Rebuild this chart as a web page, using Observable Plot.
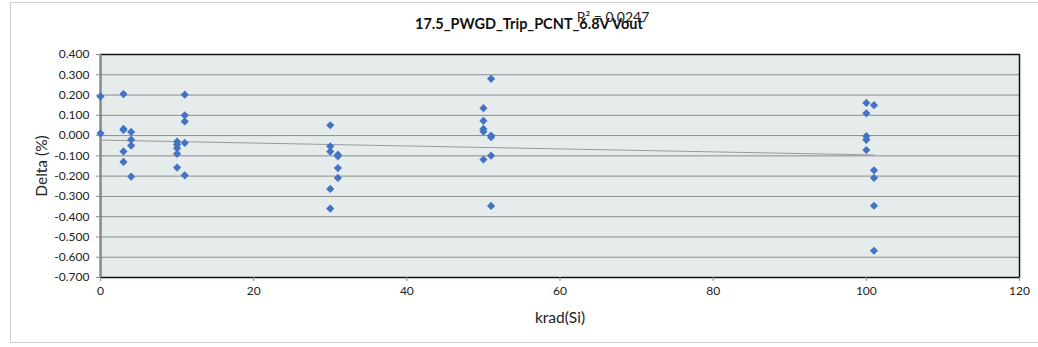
<!DOCTYPE html>
<html>
<head>
<meta charset="utf-8">
<script src="https://cdn.jsdelivr.net/npm/d3@7"></script>
<script src="https://cdn.jsdelivr.net/npm/@observablehq/plot@0.6"></script>
<style>
  html, body { margin: 0; padding: 0; background: #fff; overflow: hidden; }
  #wrap { position: relative; width: 1038px; height: 347px; overflow: hidden; }
  #border { position: absolute; left: 10px; top: 2px; width: 1100px; height: 341px; border: 1px solid #cfcfcf; box-sizing: border-box; pointer-events: none; }
  #chart { position: absolute; left: 0; top: 0; }
</style>
</head>
<body>
<div id="wrap"><div id="chart"></div><div id="border"></div></div>
<script>
const title = "17.5_PWGD_Trip_PCNT_6.8V Vout";
const r2Label = "R\u00B2 = 0.0247";
const xLabel = "krad(Si)";
const yLabel = "Delta (%)";

const krad = [
  0, 0,
  3, 3, 3, 3, 3,
  4, 4, 4, 4,
  10, 10, 10, 10, 10,
  11, 11, 11, 11, 11,
  30, 30, 30, 30, 30,
  31, 31, 31, 31,
  50, 50, 50, 50, 50,
  51, 51, 51, 51, 51,
  100, 100, 100, 100, 100,
  101, 101, 101, 101, 101
];
const delta = [
  0.193, 0.011,
  0.205, 0.033, 0.028, -0.078, -0.130,
  0.018, -0.020, -0.049, -0.202,
  -0.030, -0.045, -0.062, -0.090, -0.158,
  0.202, 0.100, 0.070, -0.036, -0.196,
  0.051, -0.053, -0.079, -0.263, -0.360,
  -0.094, -0.102, -0.160, -0.209,
  0.135, 0.073, 0.033, 0.020, -0.118,
  0.280, 0.000, -0.008, -0.099, -0.347,
  0.161, 0.110, -0.003, -0.021, -0.071,
  0.150, -0.171, -0.209, -0.346, -0.568
];
const xTicks = [0, 20, 40, 60, 80, 100, 120];
const yTicks = [0.4, 0.3, 0.2, 0.1, 0.0, -0.1, -0.2, -0.3, -0.4, -0.5, -0.6, -0.7];

const data = krad.map((k, i) => ({krad: k, delta: delta[i]}));

const chart = Plot.plot({
  width: 1038,
  height: 347,
  marginLeft: 100,
  marginRight: 19,
  marginTop: 54,
  marginBottom: 70,
  style: {fontFamily: "Lato, 'Open Sans', sans-serif", fontSize: "12px", color: "#222", background: "transparent"},
  x: {domain: [0, 120], label: null},
  y: {domain: [-0.7, 0.4], label: null},
  marks: [
    Plot.frame({fill: "#e6ecec", stroke: null}),
    Plot.ruleY(yTicks, {stroke: "#8c8c8c", strokeWidth: 1}),
    Plot.frame({stroke: "#111", strokeWidth: 1.5}),
    Plot.ruleX([0], {stroke: "#8a8a8a", strokeWidth: 2}),
    Plot.axisY({ticks: yTicks, tickFormat: d => d.toFixed(3), tickSize: 4, tickPadding: 7, stroke: "#8a8a8a",
      label: yLabel, labelAnchor: "center", labelArrow: "none", labelOffset: 65, fontSize: 12}),
    Plot.axisX({ticks: xTicks, tickSize: 4, tickPadding: 5, stroke: "#8a8a8a",
      label: xLabel, labelAnchor: "center", labelArrow: "none", labelOffset: 45, fontSize: 12}),
    Plot.linearRegressionY(data, {x: "krad", y: "delta", ci: 0, stroke: "#9a9a9a", strokeWidth: 1}),
    Plot.dot(data, {x: "krad", y: "delta", symbol: "diamond2", r: 3.7, fill: "#4472c4", stroke: null}),
    Plot.text([title], {frameAnchor: "top", dx: -31, dy: -30, lineAnchor: "middle", fontWeight: "bold", fontSize: 14.5, fill: "#111"}),
    Plot.text([r2Label], {frameAnchor: "top", dx: 53, dy: -37, lineAnchor: "middle", fontSize: 14, fill: "#222"})
  ]
});
document.getElementById("chart").appendChild(chart);
// axis label font size
d3.select(chart).selectAll("g[aria-label='x-axis label'] text, g[aria-label='y-axis label'] text").style("font-size", "15.5px");
</script>
</body>
</html>
